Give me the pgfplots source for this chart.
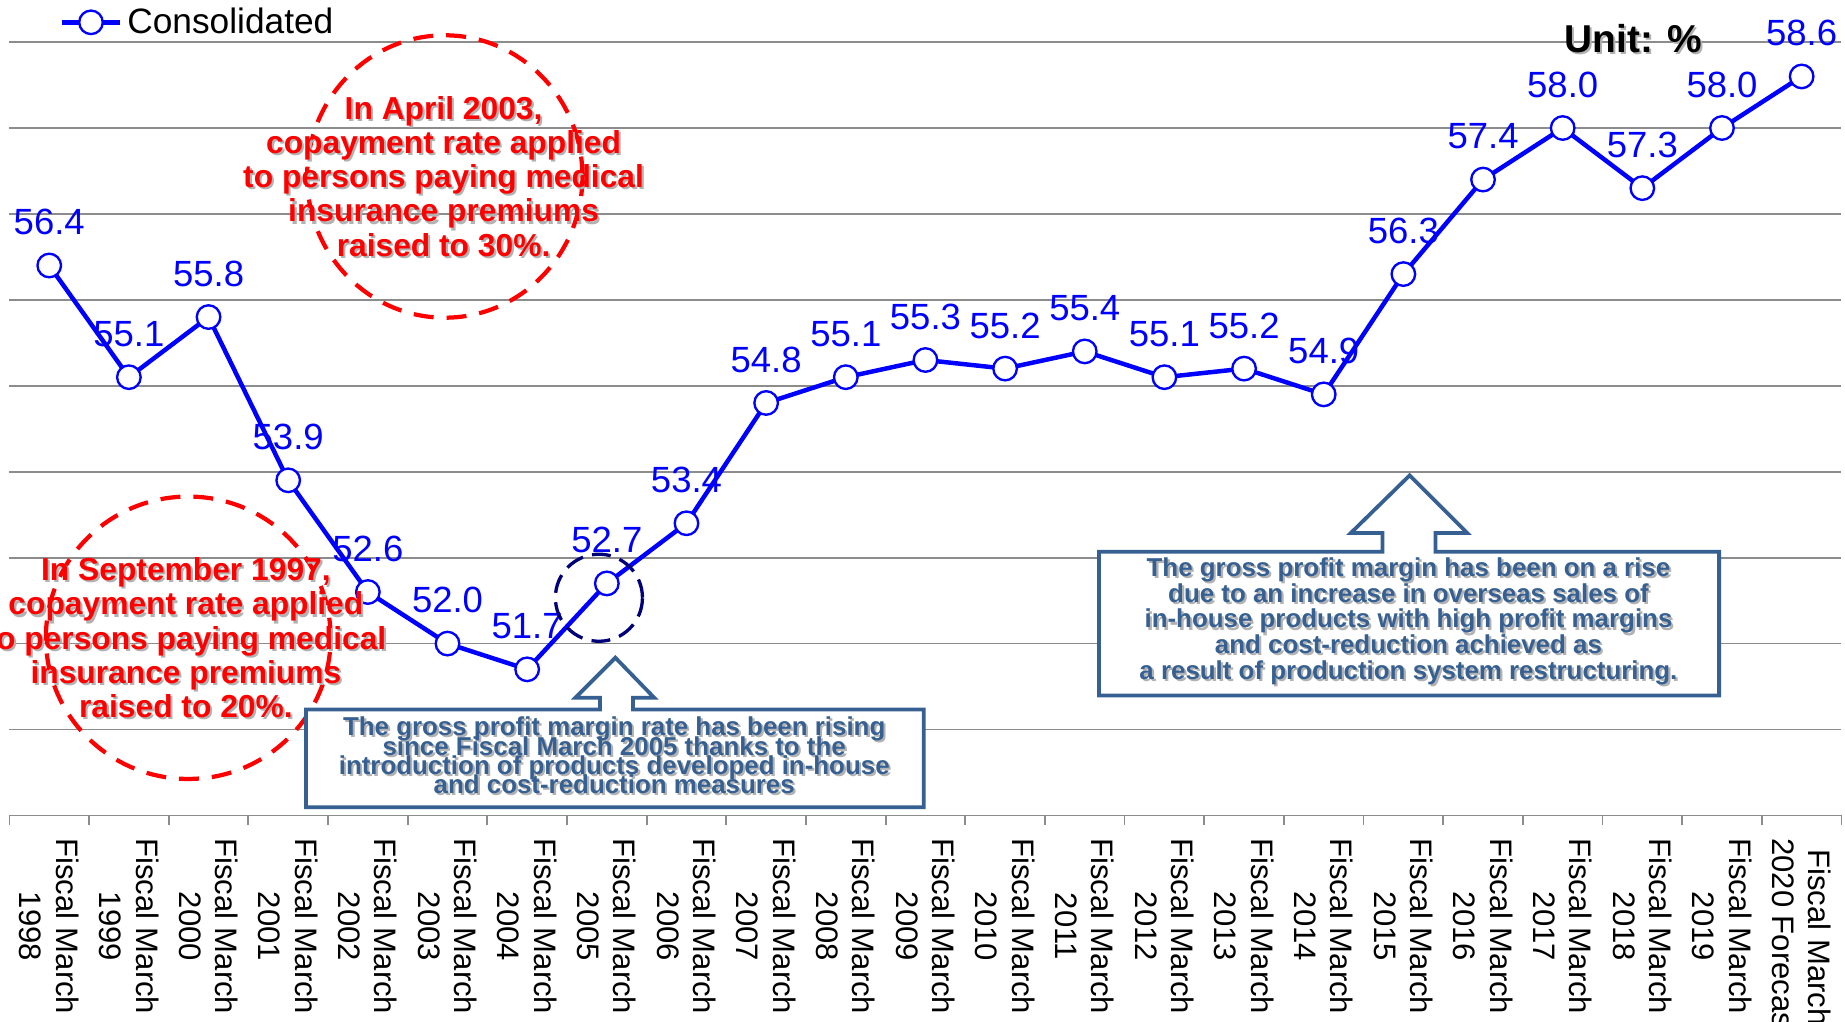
\documentclass[border=0pt]{standalone}
\usepackage{pgfplots}
\pgfplotsset{compat=1.18}
\usepackage{pgfplotstable}
\usepackage{fontspec}
\setmainfont{Liberation Sans}

\definecolor{lineblue}{RGB}{0,0,255}
\definecolor{boxblue}{RGB}{54,96,146}
\definecolor{gridgray}{RGB}{140,140,140}
\definecolor{navyd}{RGB}{0,0,120}

\pgfplotstableread{
x y
0 56.4
1 55.1
2 55.8
3 53.9
4 52.6
5 52.0
6 51.7
7 52.7
8 53.4
9 54.8
10 55.1
11 55.3
12 55.2
13 55.4
14 55.1
15 55.2
16 54.9
17 56.3
18 57.4
19 58.0
20 57.3
21 58.0
22 58.6
}\datatable

\newcommand{\tightlines}{\lineskiplimit=-20pt\relax\lineskip=0pt\relax}
\newcommand{\shnode}[3]{%
  \node[#1, text=black!30, xshift=0.9pt, yshift=-0.9pt] at #2 {#3};
  \node[#1] at #2 {#3};}

\begin{document}
\begin{tikzpicture}
\useasboundingbox (0,0) rectangle (784pt,434pt);
\begin{axis}[
  at={(4pt,87.5pt)}, anchor=south west,
  width=778.5pt, height=346.5pt, scale only axis,
  xmin=-0.5, xmax=22.5, ymin=50, ymax=59.49,
  clip=false,
  axis x line*=bottom, axis y line*=left,
  x axis line style={gridgray, line width=0.75pt, -},
  y axis line style={draw=none},
  ytick={50,...,59}, yticklabels={}, ytick style={draw=none},
  ymajorgrids, grid style={gridgray, line width=0.75pt},
  xtick={0,...,22},
  xticklabels={{Fiscal March\\1998},{Fiscal March\\1999},{Fiscal March\\2000},{Fiscal March\\2001},{Fiscal March\\2002},{Fiscal March\\2003},{Fiscal March\\2004},{Fiscal March\\2005},{Fiscal March\\2006},{Fiscal March\\2007},{Fiscal March\\2008},{Fiscal March\\2009},{Fiscal March\\2010},{Fiscal March\\2011},{Fiscal March\\2012},{Fiscal March\\2013},{Fiscal March\\2014},{Fiscal March\\2015},{Fiscal March\\2016},{Fiscal March\\2017},{Fiscal March\\2018},{Fiscal March\\2019},{Fiscal March\\2020 Forecast}},
  major x tick style={draw=none},
  minor xtick={-0.5,0.5,...,22.5},
  minor x tick style={gridgray, line width=0.75pt},
  tick align=outside, major tick length=0pt, minor tick length=4pt,
  xticklabel style={yshift=-9.5pt, rotate=-90, anchor=west, align=center, inner sep=0pt, font=\fontsize{13.2}{15.5}\selectfont, text=black},
  legend style={at={(0.027,0.9726)}, anchor=west, draw=none, fill=none, inner sep=0pt, font=\fontsize{15}{15}\selectfont},
  legend image code/.code={\draw[mark repeat=2,mark phase=2] plot coordinates {(0pt,0pt) (12.5pt,0pt) (25pt,0pt)};},
]
\addplot[lineblue, line width=1.9pt, mark=*, mark size=5pt,
  mark options={fill=white, draw=lineblue, line width=1pt},
  nodes near coords={\pgfmathprintnumber[fixed,fixed zerofill,precision=1,assume math mode=true]{\pgfplotspointmeta}},
  nodes near coords style={anchor=base, yshift=13pt, inner sep=0pt, font=\fontsize{15.5}{15.5}\selectfont, text=lineblue},
  point meta=y]
  table[x=x, y=y] {\datatable};
\addlegendentry{Consolidated}
\end{axis}

\begin{scope}[x=0.5pt, y=-0.5pt, shift={(0pt,434pt)}]
  % red dashed circles
  \draw[red, line width=1.8pt, dash pattern=on 8.5pt off 5.5pt] (378,150) ellipse [x radius=58.5pt, y radius=60pt];
  \draw[red, line width=1.8pt, dash pattern=on 8.5pt off 5.5pt] (160,542) ellipse [x radius=60.5pt, y radius=60pt];
  % navy dashed circle
  \draw[navyd, line width=1.4pt, dash pattern=on 8pt off 4pt] (509,508) circle [radius=18.5pt];
  % red texts
  \shnode{text=red, align=center, font=\bfseries\fontsize{13.5}{14.5}\selectfont, inner sep=0pt}{(377,150)}{In April 2003,\\copayment rate applied\\to persons paying medical\\insurance premiums\\raised to 30\%.}
  \shnode{text=red, align=center, font=\bfseries\fontsize{13.5}{14.5}\selectfont, inner sep=0pt}{(158,542)}{In September 1997,\\copayment rate applied\\to persons paying medical\\insurance premiums\\raised to 20\%.}
  % callout box 1
  \draw[boxblue, fill=white, line width=1.6pt, line join=miter]
    (260,603) -- (510,603) -- (510,593) -- (489,593) -- (523,559) -- (556,593) -- (538,593) -- (538,603) -- (785,603) -- (785,686) -- (260,686) -- cycle;
  \shnode{text=boxblue, align=center, font=\bfseries\fontsize{11}{8.2}\selectfont\tightlines, inner sep=0pt}{(522,642)}{The gross profit margin rate has been rising\\since Fiscal March 2005 thanks to the\\introduction of products developed in-house\\and cost-reduction measures}
  % callout box 2
  \draw[boxblue, fill=white, line width=1.6pt, line join=miter]
    (934,469) -- (1175,469) -- (1175,453) -- (1148,453) -- (1198,404) -- (1247,453) -- (1220,453) -- (1220,469) -- (1461,469) -- (1461,591) -- (934,591) -- cycle;
  \shnode{text=boxblue, align=center, font=\bfseries\fontsize{11}{10.9}\selectfont, inner sep=0pt}{(1197,528)}{The gross profit margin has been on a rise\\due to an increase in overseas sales of\\in-house products with high profit margins\\and cost-reduction achieved as\\a result of production system restructuring.}
  % unit
  \shnode{text=black, font=\bfseries\fontsize{16.5}{16.5}\selectfont, inner sep=0pt}{(1388,33)}{Unit: \%}
\end{scope}
\end{tikzpicture}
\end{document}
